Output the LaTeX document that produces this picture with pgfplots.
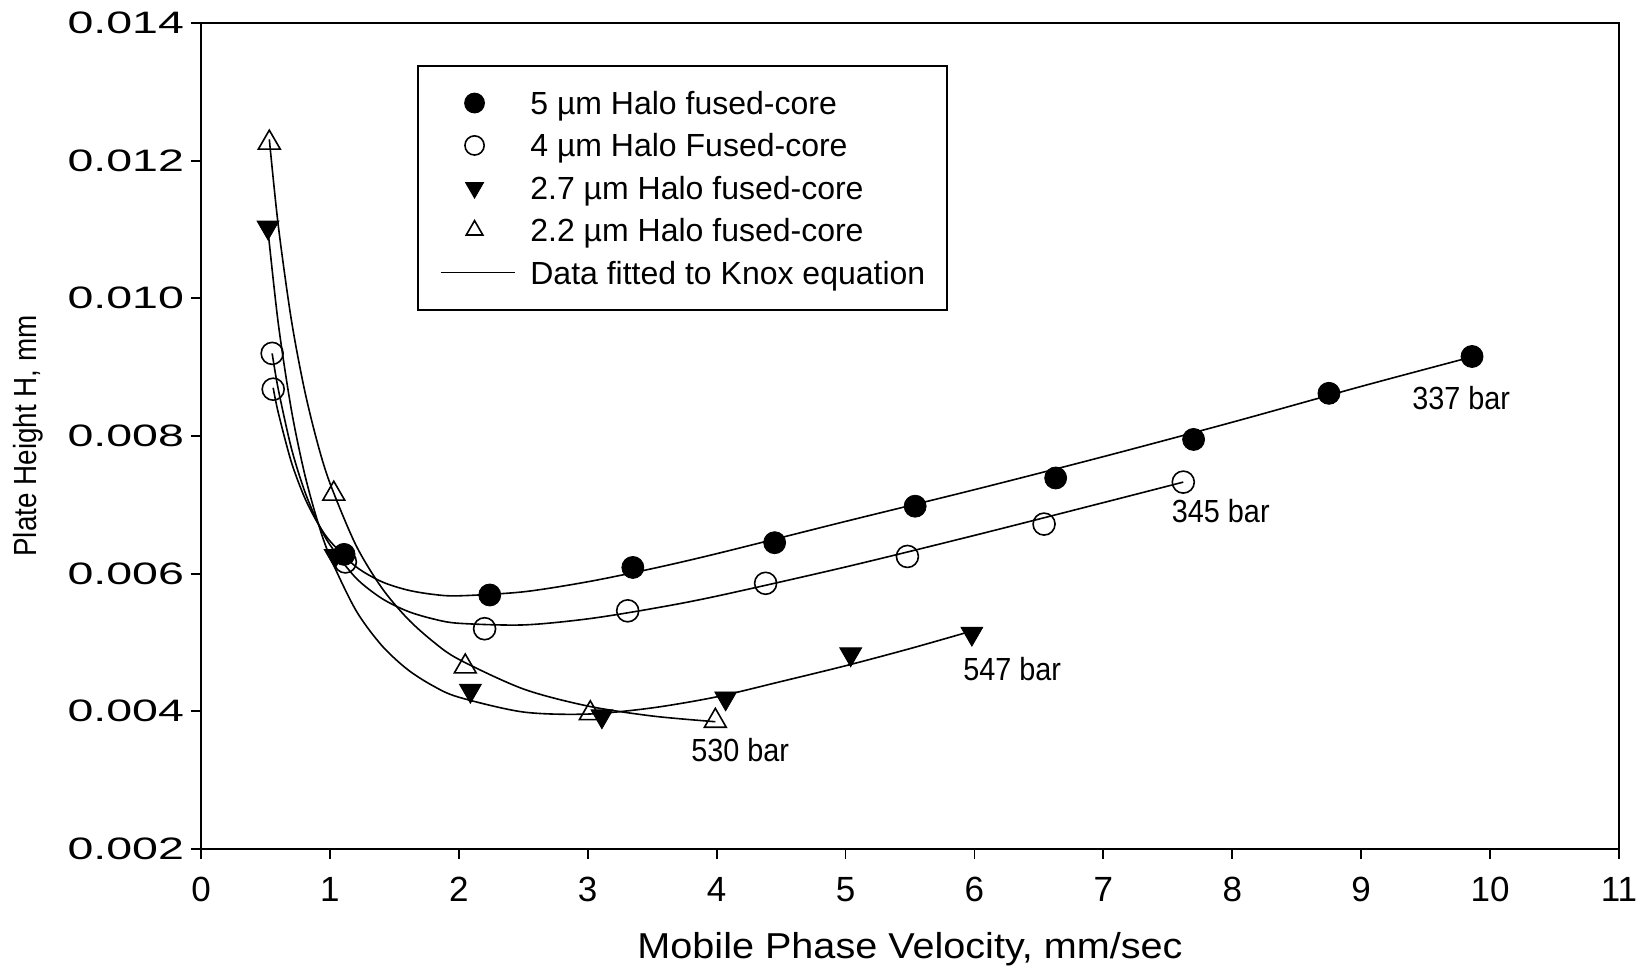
\documentclass[border=0pt]{standalone}
\usepackage{pgfplots}
\pgfplotsset{compat=1.18}
\usepackage{fontspec}
\setmainfont{Liberation Sans}
\usepackage{graphicx}
\begin{document}
\begin{tikzpicture}
\begin{axis}[
  scale only axis, width=709pt, height=413pt,
  xmin=0, xmax=11, ymin=0.002, ymax=0.014,
  xtick={0,1,2,3,4,5,6,7,8,9,10,11},
  ytick={0.002,0.004,0.006,0.008,0.010,0.012,0.014},
  tick pos=left, tick align=outside,
  major tick length=5pt,
  axis line style={line width=1.1pt},
  every tick/.style={black, line width=0.9pt},
  /pgf/number format/assume math mode=true,
  scaled y ticks=false,
  xticklabel style={font=\fontsize{17.5}{20}\selectfont, yshift=-5.5pt},
  yticklabel={\scalebox{1.5}[1]{\pgfmathprintnumber[fixed,fixed zerofill,precision=3]{\tick}}},
  yticklabel style={font=\fontsize{15.5}{17}\selectfont},
  legend style={at={(0.1523,0.9492)}, anchor=north west, draw=black, line width=0.8pt,
    inner xsep=11pt, inner ysep=12.9pt, row sep=9.7pt, column sep=7.5pt,
    font=\fontsize{16}{18}\selectfont,
    nodes={inner sep=0pt, text height=11.5pt, text depth=0pt}},
  legend cell align=left,
  legend image code/.code={\path (0pt,0pt) (37pt,0pt); \draw[mark size=4.8pt] plot coordinates {(17pt,0pt)};},
]
% fitted curves
\addplot[forget plot, black, line width=0.8pt, smooth, tension=0.5] coordinates {
(0.56,0.0087) (0.6,0.008334) (0.7,0.007627) (0.8,0.007122) (0.9,0.006752) (1.0,0.006475) (1.2,0.006104) (1.4,0.005885) (1.6,0.005763) (1.8,0.005699) (2.0,0.005678) (2.5,0.005736) (3,0.005882) (3.5,0.006073) (4,0.00629) (5,0.006759) (6,0.00722) (7,0.0077) (8,0.0082) (9,0.00872) (9.86,0.00915)};
\addplot[forget plot, black, line width=0.8pt, smooth, tension=0.5] coordinates {
(0.552,0.0092) (0.6,0.008674) (0.7,0.00783) (0.8,0.00722) (0.9,0.006766) (1.0,0.00642) (1.2,0.005941) (1.4,0.005643) (1.6,0.005456) (1.8,0.005343) (2.0,0.005279) (2.5,0.005255) (3,0.005343) (3.5,0.005492) (4,0.005673) (5,0.006097) (6,0.006556) (7,0.007032) (7.62,0.00733)};
\addplot[forget plot, black, line width=0.8pt, smooth, tension=0.5] coordinates {
(0.52,0.01098) (0.6,0.009628) (0.7,0.008391) (0.8,0.00748) (0.9,0.006788) (1.0,0.006248) (1.2,0.005473) (1.4,0.004961) (1.6,0.004611) (1.8,0.00437) (2.0,0.004205) (2.5,0.00399) (3.0,0.00396) (3.5,0.00405) (4.0,0.00421) (4.5,0.004433) (5.0,0.004662) (5.5,0.004911) (5.98,0.005167)};
\addplot[forget plot, black, line width=0.8pt, smooth, tension=0.5] coordinates {
(0.53,0.01231) (0.6,0.011049) (0.7,0.009698) (0.8,0.008696) (0.9,0.007924) (1.0,0.007316) (1.2,0.006421) (1.4,0.0058) (1.6,0.005351) (1.8,0.005014) (2.0,0.004755) (2.5,0.004325) (3.0,0.004077) (3.5,0.003932) (3.99,0.003849)};
% data
\addplot[only marks, mark=*, mark size=5.5pt, black] coordinates {
(1.11,0.00628) (2.24,0.00569) (3.35,0.00609) (4.45,0.00645) (5.54,0.00698) (6.63,0.00739) (7.70,0.00795) (8.75,0.00862) (9.86,0.009155)};
\addlegendentry{5 µm Halo fused-core}
\addplot[only marks, mark=o, mark size=5.5pt, black, line width=0.8pt] coordinates {
(0.552,0.0092) (0.56,0.00868) (1.12,0.00617) (2.20,0.0052) (3.31,0.00546) (4.38,0.00586) (5.48,0.00625) (6.54,0.00672) (7.62,0.00733)};
\addlegendentry{4 µm Halo Fused-core}
\addplot[only marks, mark=triangle*, mark size=6.3pt, mark options={rotate=180}, black] coordinates {
(0.52,0.01103) (1.04,0.00626) (2.09,0.0043) (3.11,0.00393) (4.07,0.00419) (5.04,0.00483) (5.98,0.00513)};
\addlegendentry{2.7 µm Halo fused-core}
\addplot[only marks, mark=triangle, mark size=6.3pt, black, line width=0.8pt] coordinates {
(0.53,0.01226) (1.03,0.00716) (2.05,0.00465) (3.02,0.00397) (3.99,0.00386)};
\addlegendentry{2.2 µm Halo fused-core}
\addlegendimage{black, line width=0.8pt, legend image code/.code={\draw (0pt,0pt) -- (37pt,0pt);}}
\addlegendentry{Data fitted to Knox equation}
% pressure labels
\node[anchor=west, inner sep=0pt, font=\fontsize{16}{18}\selectfont] at (axis cs:9.394,0.008545) {\scalebox{0.9}[1]{337 bar}};
\node[anchor=west, inner sep=0pt, font=\fontsize{16}{18}\selectfont] at (axis cs:7.529,0.006903) {\scalebox{0.9}[1]{345 bar}};
\node[anchor=west, inner sep=0pt, font=\fontsize{16}{18}\selectfont] at (axis cs:5.911,0.004608) {\scalebox{0.9}[1]{547 bar}};
\node[anchor=west, inner sep=0pt, font=\fontsize{16}{18}\selectfont] at (axis cs:3.801,0.003438) {\scalebox{0.9}[1]{530 bar}};
\end{axis}
\node[rotate=90, anchor=base, font=\fontsize{16}{18}\selectfont] at (-82pt,206.5pt) {\scalebox{0.87}[1]{Plate Height H, mm}};
\node[anchor=base, font=\fontsize{18}{20}\selectfont] at (354.5pt,-55pt) {\scalebox{1.1}[1]{Mobile Phase Velocity, mm/sec}};
\pgfresetboundingbox
\path[use as bounding box] (-100.5pt,-59.5pt) rectangle (719.5pt,424.5pt);
\end{tikzpicture}
\end{document}
